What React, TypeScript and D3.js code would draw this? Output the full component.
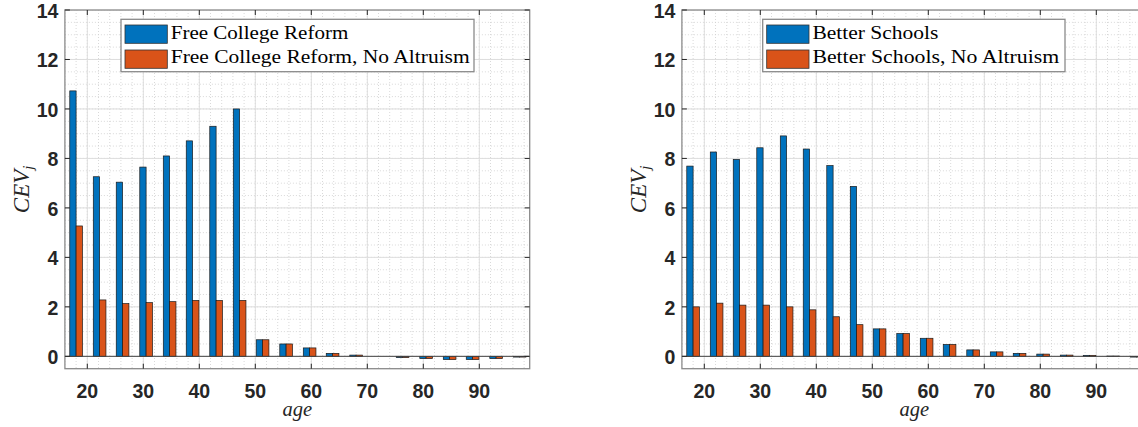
import React from "react";
import * as d3 from "d3";

const ages = [18.0, 22.2, 26.3, 30.5, 34.7, 38.8, 43.0, 47.2, 51.3, 55.5, 59.7, 63.8, 68.0, 72.2, 76.3, 80.5, 84.7, 88.8, 93.0, 97.2];

const freeCollege = [10.73, 7.26, 7.04, 7.65, 8.1, 8.71, 9.3, 10.0, 0.67, 0.5, 0.34, 0.12, 0.05, 0.0, -0.05, -0.09, -0.13, -0.13, -0.09, -0.03];
const freeCollegeNoAltruism = [5.27, 2.28, 2.13, 2.17, 2.21, 2.26, 2.26, 2.26, 0.67, 0.5, 0.34, 0.12, 0.05, 0.0, -0.05, -0.09, -0.13, -0.13, -0.09, -0.03];

const betterSchools = [7.69, 8.26, 7.96, 8.43, 8.91, 8.38, 7.71, 6.87, 1.11, 0.92, 0.73, 0.48, 0.26, 0.18, 0.12, 0.09, 0.05, 0.04, 0.01, -0.03];
const betterSchoolsNoAltruism = [2.0, 2.15, 2.07, 2.07, 2.0, 1.88, 1.6, 1.28, 1.11, 0.92, 0.73, 0.48, 0.26, 0.18, 0.12, 0.09, 0.05, 0.04, 0.01, -0.03];

const leftLegend = ["Free College Reform", "Free College Reform, No Altruism"];
const rightLegend = ["Better Schools", "Better Schools, No Altruism"];

const xTicks = [20, 30, 40, 50, 60, 70, 80, 90];
const yTicks = [0, 2, 4, 6, 8, 10, 12, 14];
const xMinor = d3.range(16, 99.01, 2);
const yMinor = d3.range(-0.5, 14.01, 0.5);

const BLUE = "#0072BD";
const ORANGE = "#D95319";
const TICK_FONT = "'Liberation Sans', Arial, Helvetica, sans-serif";
const SERIF = "'Liberation Serif', 'Times New Roman', serif";

type PanelProps = {
  id: string;
  left: number;
  right: number;
  a: number[];
  b: number[];
  labels: string[];
  legendX: number;
  legendW: number;
  textLens: number[];
};

function Panel({ id, left, right, a, b, labels, legendX, legendW, textLens }: PanelProps) {
  const x = d3.scaleLinear().domain([16, 99]).range([left, right]);
  const y = d3.scaleLinear().domain([-0.5, 14]).range([368.7, 10]);
  const top = y(14);
  const bottom = y(-0.5);
  const bw = x(16 + 1.13) - x(16);
  const cx = (left + right) / 2;
  const cy = (top + bottom) / 2;
  const legY = 19.3;
  const legH = 52.4;
  return (
    <g>
      <defs>
        <clipPath id={id}>
          <rect x={left} y={top} width={right - left} height={bottom - top} />
        </clipPath>
      </defs>
      <rect x={left} y={top} width={right - left} height={bottom - top} fill="#fff" />
      <g clipPath={`url(#${id})`}>
        {xMinor.map((v) => (
          <line key={"xm" + v} x1={x(v)} x2={x(v)} y1={top} y2={bottom} stroke="#cfcfcf" strokeWidth={0.8} strokeDasharray="1,2" />
        ))}
        {yMinor.map((v) => (
          <line key={"ym" + v} x1={left} x2={right} y1={y(v)} y2={y(v)} stroke="#cfcfcf" strokeWidth={0.8} strokeDasharray="1,2" />
        ))}
        {xTicks.map((v) => (
          <line key={"xg" + v} x1={x(v)} x2={x(v)} y1={top} y2={bottom} stroke="#dedede" strokeWidth={1} />
        ))}
        {yTicks.map((v) => (
          <line key={"yg" + v} x1={left} x2={right} y1={y(v)} y2={y(v)} stroke="#dedede" strokeWidth={1} />
        ))}
        {ages.map((age, i) => {
          const va = a[i];
          const vb = b[i];
          return (
            <g key={"bar" + i}>
              <rect x={x(age) - bw} y={Math.min(y(va), y(0))} width={bw} height={Math.abs(y(va) - y(0))} fill={BLUE} stroke="#1a1a1a" strokeWidth={0.7} />
              <rect x={x(age)} y={Math.min(y(vb), y(0))} width={bw} height={Math.abs(y(vb) - y(0))} fill={ORANGE} stroke="#1a1a1a" strokeWidth={0.7} />
            </g>
          );
        })}
        <line x1={left} x2={right} y1={y(0)} y2={y(0)} stroke="#444" strokeWidth={1} />
      </g>
      {/* axes box */}
      <rect x={left} y={top} width={right - left} height={bottom - top} fill="none" stroke="#8a8a8a" strokeWidth={1.3} />
      {xTicks.map((v) => (
        <g key={"xt" + v}>
          <line x1={x(v)} x2={x(v)} y1={bottom} y2={bottom - 5} stroke="#262626" strokeWidth={1} />
          <line x1={x(v)} x2={x(v)} y1={top} y2={top + 5} stroke="#262626" strokeWidth={1} />
          <text x={x(v)} y={397.5} textAnchor="middle" fontFamily={TICK_FONT} fontWeight="bold" fontSize={19.5} fill="#262626">
            {v}
          </text>
        </g>
      ))}
      {yTicks.map((v) => (
        <g key={"yt" + v}>
          <line x1={left} x2={left + 5} y1={y(v)} y2={y(v)} stroke="#262626" strokeWidth={1} />
          <line x1={right} x2={right - 5} y1={y(v)} y2={y(v)} stroke="#262626" strokeWidth={1} />
          <text x={left - 6.5} y={y(v) + 8} textAnchor="end" fontFamily={TICK_FONT} fontWeight="bold" fontSize={19.5} fill="#262626">
            {v}
          </text>
        </g>
      ))}
      {/* axis labels */}
      <text x={cx} y={416} textAnchor="middle" fontFamily={SERIF} fontStyle="italic" fontSize={20.5} fill="#262626">
        age
      </text>
      <text transform={`translate(${left - 36},${cy}) rotate(-90)`} textAnchor="middle" fontFamily={SERIF} fontStyle="italic" fontSize={23} fill="#262626">
        CEV<tspan dy={4} fontSize={15}>j</tspan>
      </text>
      {/* legend */}
      <rect x={legendX} y={legY} width={legendW} height={legH} fill="#fff" stroke="#8a8a8a" strokeWidth={1.3} />
      {labels.map((lab, i) => (
        <g key={"leg" + i}>
          <rect x={legendX + 4} y={legY + 5.7 + i * 25} width={42.3} height={18.3} fill={i === 0 ? BLUE : ORANGE} stroke="#333" strokeWidth={0.8} />
          <text x={legendX + 49.7} y={legY + 20 + i * 24} fontFamily={SERIF} fontSize={18.5} fill="#000" textLength={textLens[i]} lengthAdjust="spacingAndGlyphs">
            {lab}
          </text>
        </g>
      ))}
    </g>
  );
}

export default function App() {
  return (
    <svg width={1138} height={427} style={{ position: "absolute", left: 0, top: 0, background: "#fff" }}>
      <rect x={0} y={0} width={1138} height={427} fill="#fff" />
      <Panel id="clipL" left={64.9} right={529.7} a={freeCollege} b={freeCollegeNoAltruism} labels={leftLegend} legendX={121} legendW={353} textLens={[177.6, 299]} />
      <Panel id="clipR" left={681.9} right={1146.7} a={betterSchools} b={betterSchoolsNoAltruism} labels={rightLegend} legendX={762.7} legendW={302.3} textLens={[126, 246.7]} />
    </svg>
  );
}
